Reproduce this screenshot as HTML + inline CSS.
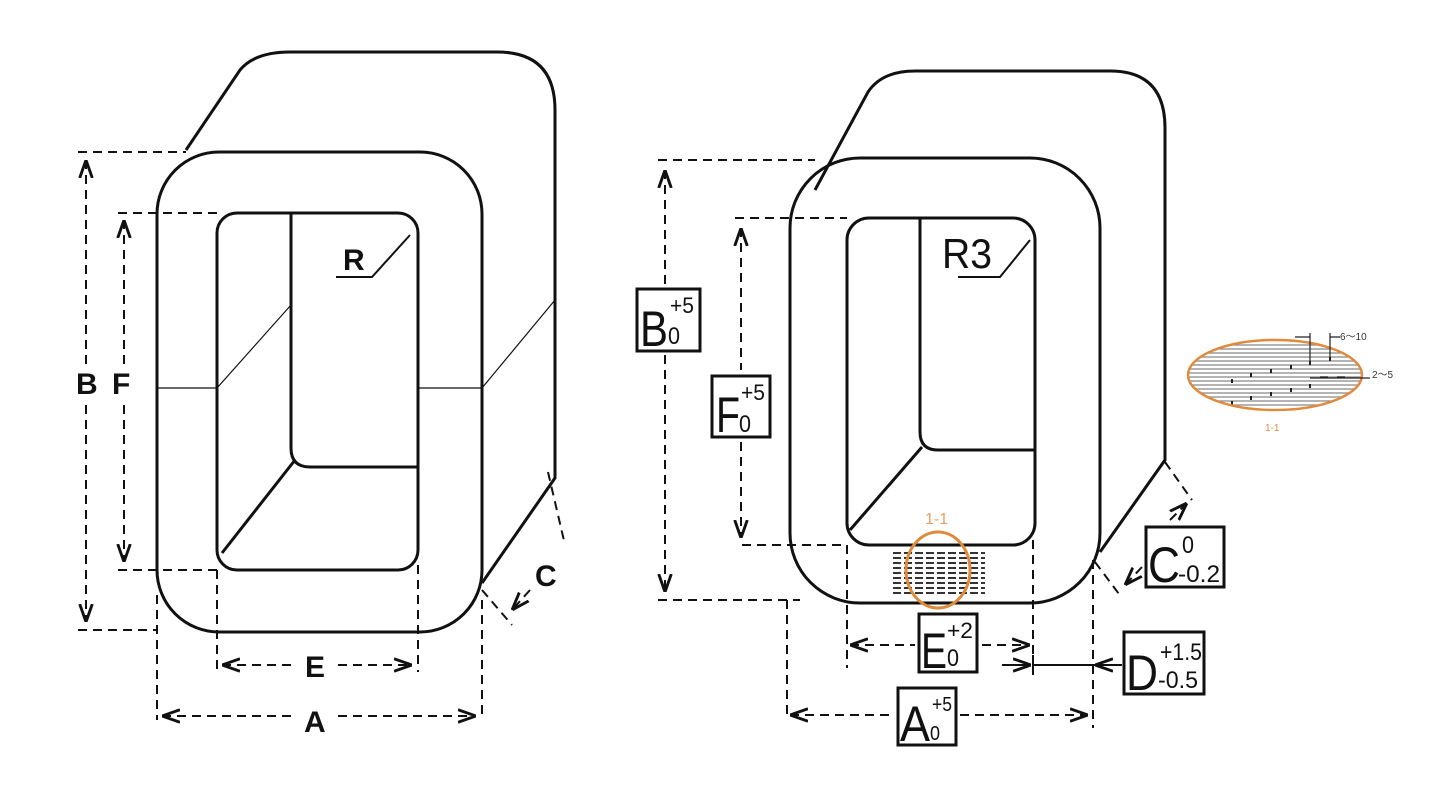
<!DOCTYPE html>
<html><head><meta charset="utf-8"><style>
html,body{margin:0;padding:0;background:#fff;}
svg{display:block;}
text{font-family:"Liberation Sans",sans-serif;fill:#111;}
</style></head><body>
<svg width="1440" height="802" viewBox="0 0 1440 802" xmlns="http://www.w3.org/2000/svg">
<defs>
<marker id="ar" viewBox="0 0 10 10" refX="10" refY="5" markerWidth="9" markerHeight="9" orient="auto-start-reverse"><path d="M0,1.5 L10,5 L0,8.5" fill="none" stroke="#111" stroke-width="1.6"/></marker>
</defs>
<rect width="1440" height="802" fill="#fff"/>

<!-- LEFT DRAWING -->
<g fill="none" stroke="#111" stroke-width="3">
  <rect x="157" y="152" width="325" height="480" rx="62"/>
  <path d="M186,150 L240,70 Q255,52 290,52 L497,52 Q555,52 555,110 L555,478 L482,583"/>
  <rect x="217" y="213" width="201" height="357" rx="20"/>
  <path d="M291,213 L291,448 Q291,467 310,467 L418,467"/>
  <path d="M295,460 L222,553"/>
</g>
<g fill="none" stroke="#111" stroke-width="1.2">
  <path d="M157,388 L217,388 L291,305"/>
  <path d="M418,388 L482,388 L555,300"/>
</g>
<g fill="none" stroke="#111" stroke-width="2">
  <path d="M336,277 L372,277 L410,235"/>
</g>
<text x="343" y="270" font-size="30" font-weight="bold">R</text>
<g fill="none" stroke="#111" stroke-width="2" stroke-dasharray="9,6">
  <path d="M78,152 L186,152"/><path d="M78,630 L157,630"/>
  <path d="M86,160 L86,365" marker-start="url(#ar)"/><path d="M86,405 L86,622" marker-end="url(#ar)"/>
  <path d="M118,213 L217,213"/><path d="M118,570 L217,570"/>
  <path d="M124,220 L124,365" marker-start="url(#ar)"/><path d="M124,405 L124,562" marker-end="url(#ar)"/>
  <path d="M217,570 L217,672"/><path d="M418,565 L418,672"/>
  <path d="M222,665 L295,665" marker-start="url(#ar)"/><path d="M338,665 L412,665" marker-end="url(#ar)"/>
  <path d="M157,595 L157,720"/><path d="M482,600 L482,720"/>
  <path d="M162,716 L295,716" marker-start="url(#ar)"/><path d="M338,716 L476,716" marker-end="url(#ar)"/>
  <path d="M482,590 L512,625"/><path d="M548,472 L565,545"/>
  <path d="M530,590 L512,610" marker-end="url(#ar)"/>
</g>
<text x="76" y="394" font-size="30" font-weight="bold">B</text>
<text x="112" y="394" font-size="30" font-weight="bold">F</text>
<text x="305" y="677" font-size="30" font-weight="bold">E</text>
<text x="304" y="732" font-size="30" font-weight="bold">A</text>
<text x="535" y="586" font-size="30" font-weight="bold">C</text>

<!-- RIGHT DRAWING -->
<g fill="none" stroke="#111" stroke-width="3">
  <rect x="790" y="158" width="310" height="445" rx="70"/>
  <path d="M815,190 L868,92 Q882,71 915,71 L1110,71 Q1165,71 1165,128 L1165,460 L1100,552"/>
  <rect x="847" y="218" width="188" height="327" rx="22"/>
  <path d="M920,218 L920,432 Q920,450 938,450 L1035,450"/>
  <path d="M922,447 L850,530"/>
</g>
<g fill="none" stroke="#111" stroke-width="2">
  <path d="M958,277 L1000,277 L1030,240"/>
</g>
<text x="942" y="268" font-size="42" textLength="50" lengthAdjust="spacingAndGlyphs">R3</text>
<g stroke="#333" stroke-width="2" stroke-dasharray="8,3">
  <path d="M893,553 H985 M893,558 H985 M893,563 H985 M893,568 H985 M893,573 H985 M893,578 H985 M893,583 H985 M893,588 H985 M893,593 H985"/>
</g>
<ellipse cx="938" cy="570" rx="32" ry="38" fill="none" stroke="#e08a3c" stroke-width="3"/>
<text x="925" y="524" font-size="16" style="fill:#e8a060">1-1</text>

<g fill="none" stroke="#111" stroke-width="2" stroke-dasharray="9,6">
  <path d="M658,160 L815,160"/><path d="M658,600 L800,600"/>
  <path d="M665,170 L665,285" marker-start="url(#ar)"/><path d="M665,355 L665,592" marker-end="url(#ar)"/>
  <path d="M735,218 L847,218"/><path d="M742,545 L847,545"/>
  <path d="M741,228 L741,370" marker-start="url(#ar)"/><path d="M741,442 L741,538" marker-end="url(#ar)"/>
  <path d="M847,545 L847,668"/><path d="M1033,540 L1033,675"/>
  <path d="M850,645 L915,645" marker-start="url(#ar)"/><path d="M982,645 L1030,645" marker-end="url(#ar)"/>
  <path d="M787,600 L787,718"/><path d="M1093,560 L1093,728"/>
  <path d="M790,715 L895,715" marker-start="url(#ar)"/><path d="M960,715 L1088,715" marker-end="url(#ar)"/>
  <path d="M1095,562 L1122,598"/><path d="M1165,462 L1192,500"/>
  <path d="M1142,567 L1125,585" marker-end="url(#ar)"/>
  <path d="M1170,520 L1187,503" marker-end="url(#ar)"/>
</g>
<g fill="none" stroke="#111" stroke-width="2">
  <path d="M1002,665 L1031,665" marker-end="url(#ar)"/>
  <path d="M1033,655 L1033,675"/>
  <path d="M1033,665 L1122,665"/>
  <path d="M1120,665 L1095,665" marker-end="url(#ar)"/>
</g>
<g fill="#fff" stroke="#111" stroke-width="3">
  <rect x="637" y="289" width="63" height="62"/>
  <rect x="712" y="376" width="58" height="61"/>
  <rect x="919" y="614" width="58" height="58"/>
  <rect x="898" y="688" width="58" height="57"/>
  <rect x="1124" y="632" width="80" height="62"/>
  <rect x="1146" y="527" width="78" height="60"/>
</g>
<g font-size="50">
  <text x="640" y="346" textLength="28" lengthAdjust="spacingAndGlyphs">B</text><text x="670" y="313" font-size="22" textLength="24" lengthAdjust="spacingAndGlyphs">+5</text><text x="668" y="344" font-size="24" textLength="12" lengthAdjust="spacingAndGlyphs">0</text>
  <text x="716" y="432" textLength="24" lengthAdjust="spacingAndGlyphs">F</text><text x="741" y="400" font-size="22" textLength="24" lengthAdjust="spacingAndGlyphs">+5</text><text x="739" y="432" font-size="24" textLength="12" lengthAdjust="spacingAndGlyphs">0</text>
  <text x="921" y="668" textLength="26" lengthAdjust="spacingAndGlyphs">E</text><text x="947" y="638" font-size="22" textLength="26" lengthAdjust="spacingAndGlyphs">+2</text><text x="947" y="666" font-size="24" textLength="12" lengthAdjust="spacingAndGlyphs">0</text>
  <text x="900" y="741" textLength="30" lengthAdjust="spacingAndGlyphs">A</text><text x="932" y="711" font-size="20" textLength="20" lengthAdjust="spacingAndGlyphs">+5</text><text x="930" y="740" font-size="20" textLength="10" lengthAdjust="spacingAndGlyphs">0</text>
  <text x="1126" y="690" textLength="32" lengthAdjust="spacingAndGlyphs">D</text><text x="1160" y="660" font-size="24" textLength="42" lengthAdjust="spacingAndGlyphs">+1.5</text><text x="1158" y="688" font-size="24" textLength="40" lengthAdjust="spacingAndGlyphs">-0.5</text>
  <text x="1148" y="582" textLength="32" lengthAdjust="spacingAndGlyphs">C</text><text x="1182" y="553" font-size="24" textLength="12" lengthAdjust="spacingAndGlyphs">0</text><text x="1178" y="582" font-size="24" textLength="42" lengthAdjust="spacingAndGlyphs">-0.2</text>
</g>

<!-- DETAIL ELLIPSE -->
<clipPath id="ec"><ellipse cx="1275" cy="375" rx="87" ry="35"/></clipPath>
<g clip-path="url(#ec)" stroke="#888" stroke-width="1.2">
  <path d="M1180,345H1370M1180,349H1370M1180,353H1370M1180,357H1370M1180,361H1370M1180,365H1370M1180,369H1370M1180,373H1370M1180,377H1370M1180,381H1370M1180,385H1370M1180,389H1370M1180,393H1370M1180,397H1370M1180,401H1370M1180,405H1370"/>
</g>
<g stroke="#222" stroke-width="2">
  <path d="M1232,379v4 M1251,373v4 M1271,369v4 M1291,365v4 M1310,361v4 M1330,357v4 M1232,405v-4 M1251,400v-4 M1271,396v-4 M1291,392v-4 M1310,388v-4"/>
</g>
<ellipse cx="1275" cy="375" rx="87" ry="35" fill="none" stroke="#e08a3c" stroke-width="2.5"/>
<g stroke="#222" stroke-width="1.2" fill="none">
  <path d="M1310,333v30 M1330,333v25"/>
  <path d="M1295,337h15 M1330,337h10"/>
  <path d="M1310,378h60"/><path d="M1320,377h8 M1337,377h8"/>
</g>
<text x="1340" y="340" font-size="10" style="fill:#333">6～10</text>
<text x="1372" y="378" font-size="10" style="fill:#333">2～5</text>
<text x="1265" y="431" font-size="10" style="fill:#e08a3c">1-1</text>
</svg>
</body></html>
